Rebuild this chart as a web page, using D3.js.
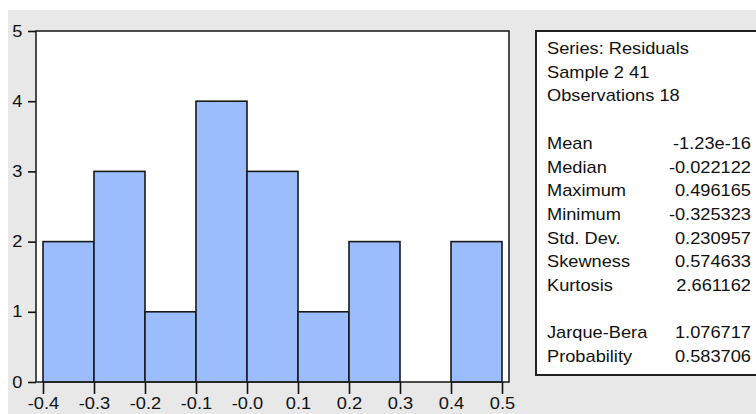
<!DOCTYPE html>
<html>
<head>
<meta charset="utf-8">
<script src="https://cdn.jsdelivr.net/npm/d3@7"></script>
<style>
  html, body { margin: 0; padding: 0; background: #ffffff; }
  svg text { font-family: "Liberation Sans", Arial, sans-serif; font-size: 16px; fill: #111; }
</style>
</head>
<body>
<svg id="chart" width="756" height="414"></svg>
<script>
// Histogram of residuals: bins of width 0.1
const binStarts = [-0.4, -0.3, -0.2, -0.1, 0.0, 0.1, 0.2, 0.3, 0.4];
const binWidth = 0.1;
const counts = [2, 3, 1, 4, 3, 1, 2, 0, 2];

const xTickValues = [-0.4, -0.3, -0.2, -0.1, 0.0, 0.1, 0.2, 0.3, 0.4, 0.5];
const xTickLabels = ["-0.4", "-0.3", "-0.2", "-0.1", "-0.0", "0.1", "0.2", "0.3", "0.4", "0.5"];
const yTickValues = [0, 1, 2, 3, 4, 5];

// Descriptive statistics panel
const headerLines = ["Series: Residuals", "Sample 2 41", "Observations 18"];
const statNames = ["Mean", "Median", "Maximum", "Minimum", "Std. Dev.", "Skewness", "Kurtosis"];
const statValues = ["-1.23e-16", "-0.022122", "0.496165", "-0.325323", "0.230957", "0.574633", "2.661162"];
const testNames = ["Jarque-Bera", "Probability"];
const testValues = ["1.076717", "0.583706"];

const svg = d3.select("#chart");
const SX = 1.14; // horizontal text stretch

// grey window background
svg.append("rect").attr("x", 8).attr("y", 10).attr("width", 748).attr("height", 404).attr("fill", "#e8e8e8");

const frame = { left: 36, top: 31, right: 509, bottom: 382 };
const x = d3.scaleLinear().domain([-0.4, 0.5]).range([43, 502]);
const y = d3.scaleLinear().domain([0, 5]).range([frame.bottom, frame.top]);

// plot area
svg.append("rect")
  .attr("x", frame.left).attr("y", frame.top)
  .attr("width", frame.right - frame.left).attr("height", frame.bottom - frame.top)
  .attr("fill", "#ffffff");

// bars
svg.append("g").selectAll("rect")
  .data(binStarts.map((s, i) => ({ s, c: counts[i] })).filter(d => d.c > 0))
  .join("rect")
  .attr("x", d => x(d.s))
  .attr("y", d => y(d.c))
  .attr("width", d => x(d.s + binWidth) - x(d.s))
  .attr("height", d => y(0) - y(d.c))
  .attr("fill", "#9bbdfd")
  .attr("stroke", "#1a1a1a")
  .attr("stroke-width", 1.6);

// frame border
svg.append("rect")
  .attr("x", frame.left).attr("y", frame.top)
  .attr("width", frame.right - frame.left).attr("height", frame.bottom - frame.top)
  .attr("fill", "none").attr("stroke", "#222").attr("stroke-width", 1.6);

// x axis
const xAxis = svg.append("g")
  .attr("transform", `translate(0,${frame.bottom})`)
  .call(d3.axisBottom(x).tickValues(xTickValues)
    .tickFormat((d, i) => xTickLabels[i]).tickSize(12).tickPadding(4));
xAxis.select(".domain").remove();
xAxis.selectAll("line").attr("stroke", "#111").attr("stroke-width", 1.6);
xAxis.selectAll("text").attr("font-size", 16).attr("fill", "#111")
  .attr("font-family", "Liberation Sans, Arial, sans-serif")
  .attr("transform", `scale(${SX},1)`);

// y axis
const yAxis = svg.append("g")
  .attr("transform", `translate(${frame.left},0)`)
  .call(d3.axisLeft(y).tickValues(yTickValues).tickFormat(d3.format("d")).tickSize(8).tickPadding(4));
yAxis.select(".domain").remove();
yAxis.selectAll("line").attr("stroke", "#111").attr("stroke-width", 1.6);
yAxis.selectAll("text").attr("font-size", 16).attr("fill", "#111")
  .attr("font-family", "Liberation Sans, Arial, sans-serif")
  .attr("transform", `scale(${SX},1)`);

// statistics box
const box = { left: 536, top: 31, right: 770, bottom: 375 };
svg.append("rect")
  .attr("x", box.left).attr("y", box.top)
  .attr("width", box.right - box.left).attr("height", box.bottom - box.top)
  .attr("fill", "#ffffff").attr("stroke", "#222").attr("stroke-width", 2);

const lineStep = 23.7;
const firstBase = 54;
const textLeft = 547, valueRight = 751;

function put(str, xPos, row, anchor) {
  svg.append("text")
    .attr("transform", `translate(${xPos},${firstBase + row * lineStep}) scale(${SX},1)`)
    .attr("text-anchor", anchor)
    .text(str);
}

headerLines.forEach((t, i) => put(t, textLeft, i, "start"));
statNames.forEach((t, i) => {
  put(t, textLeft, 4 + i, "start");
  put(statValues[i], valueRight, 4 + i, "end");
});
testNames.forEach((t, i) => {
  put(t, textLeft, 12 + i, "start");
  put(testValues[i], valueRight, 12 + i, "end");
});
</script>
</body>
</html>
